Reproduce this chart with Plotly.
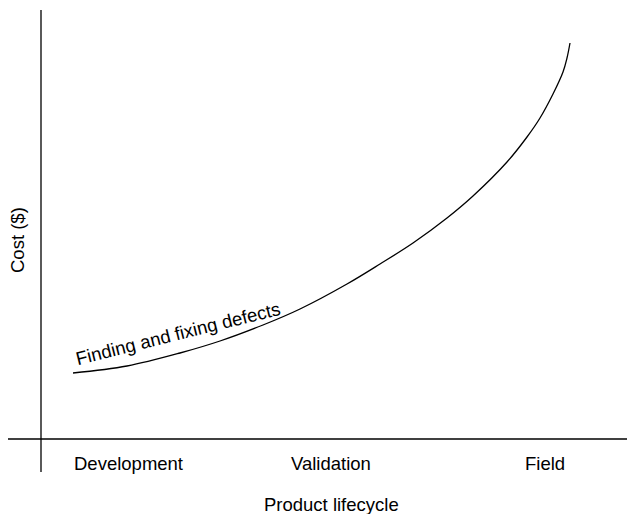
import plotly.graph_objects as go

# Curve: cost of finding and fixing defects along the product lifecycle
lifecycle_x = [0.32, 0.86, 1.39, 1.79, 2.22, 2.59, 3.06, 3.39, 3.72, 4.06,
               4.32, 4.66, 4.86, 4.99, 5.12, 5.22, 5.26, 5.29]
cost_y = [0.66, 0.73, 0.86, 0.98, 1.14, 1.30, 1.55, 1.75, 1.96, 2.21,
          2.43, 2.77, 3.02, 3.21, 3.45, 3.67, 3.81, 3.96]

tick_positions = [0.87, 2.90, 5.04]
tick_labels = ["Development", "Validation", "Field"]

curve_label = "Finding and fixing defects"
x_title = "Product lifecycle"
y_title = "Cost ($)"

FONT = "Liberation Sans, Arial, sans-serif"
FS = 18.5

fig = go.Figure()
fig.add_trace(go.Scatter(x=lifecycle_x, y=cost_y, mode="lines",
                         line=dict(color="black", width=1.3, shape="spline", smoothing=1.0),
                         hoverinfo="skip", showlegend=False))

# axis spines
fig.add_shape(type="line", x0=0, x1=0, y0=-0.33, y1=4.29, line=dict(color="black", width=1.3))
fig.add_shape(type="line", x0=-0.33, x1=5.96, y0=0, y1=0, line=dict(color="black", width=1.3))

ann = []
for p, t in zip(tick_positions, tick_labels):
    ann.append(dict(x=p, y=-0.24, text=t, showarrow=False, xanchor="center", yanchor="middle",
                    font=dict(family=FONT, size=FS, color="black")))
ann.append(dict(x=2.90, y=-0.655, text=x_title, showarrow=False, xanchor="center", yanchor="middle",
                font=dict(family=FONT, size=FS, color="black")))
ann.append(dict(x=-0.24, y=1.99, text=y_title, showarrow=False, textangle=-90,
                xanchor="center", yanchor="middle", font=dict(family=FONT, size=FS, color="black")))
ann.append(dict(x=1.37, y=1.06, text=curve_label, showarrow=False, textangle=-14,
                xanchor="center", yanchor="middle", font=dict(family=FONT, size=FS, color="black")))

# page body has an 8px margin: figure spans screen px 8..635 x 8..514
fig.update_layout(
    width=627, height=506,
    margin=dict(l=0, r=0, t=0, b=0),
    paper_bgcolor="white", plot_bgcolor="white",
    xaxis=dict(range=[-0.33, 5.94], visible=False, domain=[0, 1]),
    yaxis=dict(range=[-0.75, 4.31], visible=False, domain=[0, 1]),
    annotations=ann,
    showlegend=False,
)
fig.write_html("out.html")
